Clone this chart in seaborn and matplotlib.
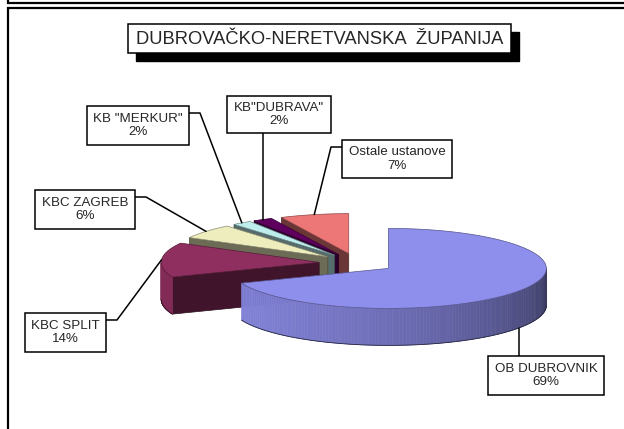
import numpy as np
import seaborn as sns
import matplotlib.pyplot as plt
from matplotlib.patches import Polygon, Rectangle
from matplotlib.colors import to_rgb

sns.set_style("white")
plt.rcParams['font.family'] = ['Liberation Sans', 'DejaVu Sans']

# data
labels = ['OB DUBROVNIK', 'KBC SPLIT', 'KBC ZAGREB', 'KB "MERKUR"', 'KB"DUBRAVA"', 'Ostale ustanove']
shares = [69, 14, 6, 2, 2, 7]
colors = ['#9999FF', '#993366', '#FFFFCC', '#CCFFFF', '#660066', '#FF8080']
title = 'DUBROVAČKO-NERETVANSKA  ŽUPANIJA'

# label boxes (x0, y0, x1, y1) in pixel space
boxes = [(488, 356, 604, 395), (25, 313, 106, 352), (35, 190, 135, 229),
         (87, 106, 189, 145), (227, 96, 331, 133), (342, 140, 452, 178)]

# 3d pie layout
cx, cy = 357, 263
A, B, H = 158, 40, 37
explode = 0.24

fig = plt.figure(figsize=(6.24, 4.29), dpi=100)
ax = fig.add_axes([0, 0, 1, 1])
ax.set_xlim(0, 624)
ax.set_ylim(429, 0)
ax.axis('off')


def shade(c, f):
    r, g, b = to_rgb(c)
    return (r * f, g * f, b * f)


def wall_factor(t):
    t = t % 360
    u = np.clip((t - 200) / 160, 0, 1)
    return 0.84 - 0.47 * u ** 1.6


total = sum(shares)
slices = []
start = 90.0
for lab, v, col in zip(labels, shares, colors):
    sweep = v / total * 360
    t1, t0 = start, start - sweep
    mid = np.radians((t0 + t1) / 2)
    apex = (cx + explode * A * np.cos(mid), cy - explode * B * np.sin(mid))
    slices.append(dict(label=lab, v=v, col=col, t0=t0, t1=t1, mid=mid, apex=apex))
    start = t0


def pt(apex, t, z=0.0):
    r = np.radians(t)
    return (apex[0] + A * np.cos(r), apex[1] - B * np.sin(r) + z)


# back to front
for s in sorted(slices, key=lambda s: s['apex'][1]):
    ap, col, t0, t1 = s['apex'], s['col'], s['t0'], s['t1']
    ap_b = (ap[0], ap[1] + H)
    # radial faces
    for phi, vis in [(t1, np.cos(np.radians(t1)) < -1e-6), (t0, np.cos(np.radians(t0)) > 1e-6)]:
        if vis:
            poly = [ap, pt(ap, phi), pt(ap, phi, H), ap_b]
            ax.add_patch(Polygon(poly, closed=True, fc=shade(col, 0.42),
                                 ec=shade(col, 0.3), lw=0.5))
    # outer wall, only the front half
    ts = np.linspace(t0, t1, 200)
    for ta, tb in zip(ts[:-1], ts[1:]):
        if np.sin(np.radians((ta + tb) / 2)) < 0:
            fc = shade(col, wall_factor((ta + tb) / 2))
            poly = [pt(ap, ta), pt(ap, tb), pt(ap, tb, H), pt(ap, ta, H)]
            ax.add_patch(Polygon(poly, closed=True, fc=fc, ec=fc, lw=0.4))
    front = [t for t in ts if np.sin(np.radians(t)) < 0]
    if front:
        ax.plot([pt(ap, t, H)[0] for t in front], [pt(ap, t, H)[1] for t in front],
                color=shade(col, 0.25), lw=0.6)
    # top face
    top = [ap] + [pt(ap, t) for t in ts]
    ax.add_patch(Polygon(top, closed=True, fc=shade(col, 0.93),
                         ec=shade(col, 0.55), lw=0.5))

# labels with leader lines
for s, (x0, y0, x1, y1) in zip(slices, boxes):
    m = np.degrees(s['mid'])
    z = H if np.sin(s['mid']) < 0 else 0
    px, py = pt(s['apex'], m, z)
    if x0 < px < x1:
        by = y1 if py > y1 else y0
        ax.plot([px, px], [by, py], color='black', lw=1.1, zorder=3)
    elif px > x1:
        ax.plot([x1, x1 + 11, px], [y0 + 7, y0 + 7, py], color='black', lw=1.1, zorder=3)
    else:
        ax.plot([x0, x0 - 11, px], [y0 + 7, y0 + 7, py], color='black', lw=1.1, zorder=3)
    ax.add_patch(Rectangle((x0, y0), x1 - x0, y1 - y0, fc='white', ec='black',
                           lw=1.1, zorder=4))
    pct = round(s['v'] / total * 100)
    ax.text((x0 + x1) / 2, (y0 + y1) / 2, f"{s['label']}\n{pct}%", ha='center',
            va='center', fontsize=9.6, linespacing=1.2, zorder=5)

# title with shadow
tx0, ty0, tx1, ty1 = 128, 24, 511, 53
ax.add_patch(Rectangle((tx0 + 8, ty0 + 8), tx1 - tx0, ty1 - ty0, fc='black', ec='black',
                       lw=1, zorder=4))
ax.add_patch(Rectangle((tx0, ty0), tx1 - tx0, ty1 - ty0, fc='white', ec='black',
                       lw=1.1, zorder=4))
ax.text((tx0 + tx1) / 2, (ty0 + ty1) / 2 + 1, title, ha='center', va='center',
        fontsize=13.2, zorder=5)

# chart frame
ax.plot([7.5, 7.5, 624], [0, 2.5, 2.5], color='black', lw=1.6, solid_joinstyle='miter')
ax.plot([624, 7.5, 7.5], [7.5, 7.5, 429], color='black', lw=1.6, solid_joinstyle='miter')

fig.savefig('out.png', dpi=100)
